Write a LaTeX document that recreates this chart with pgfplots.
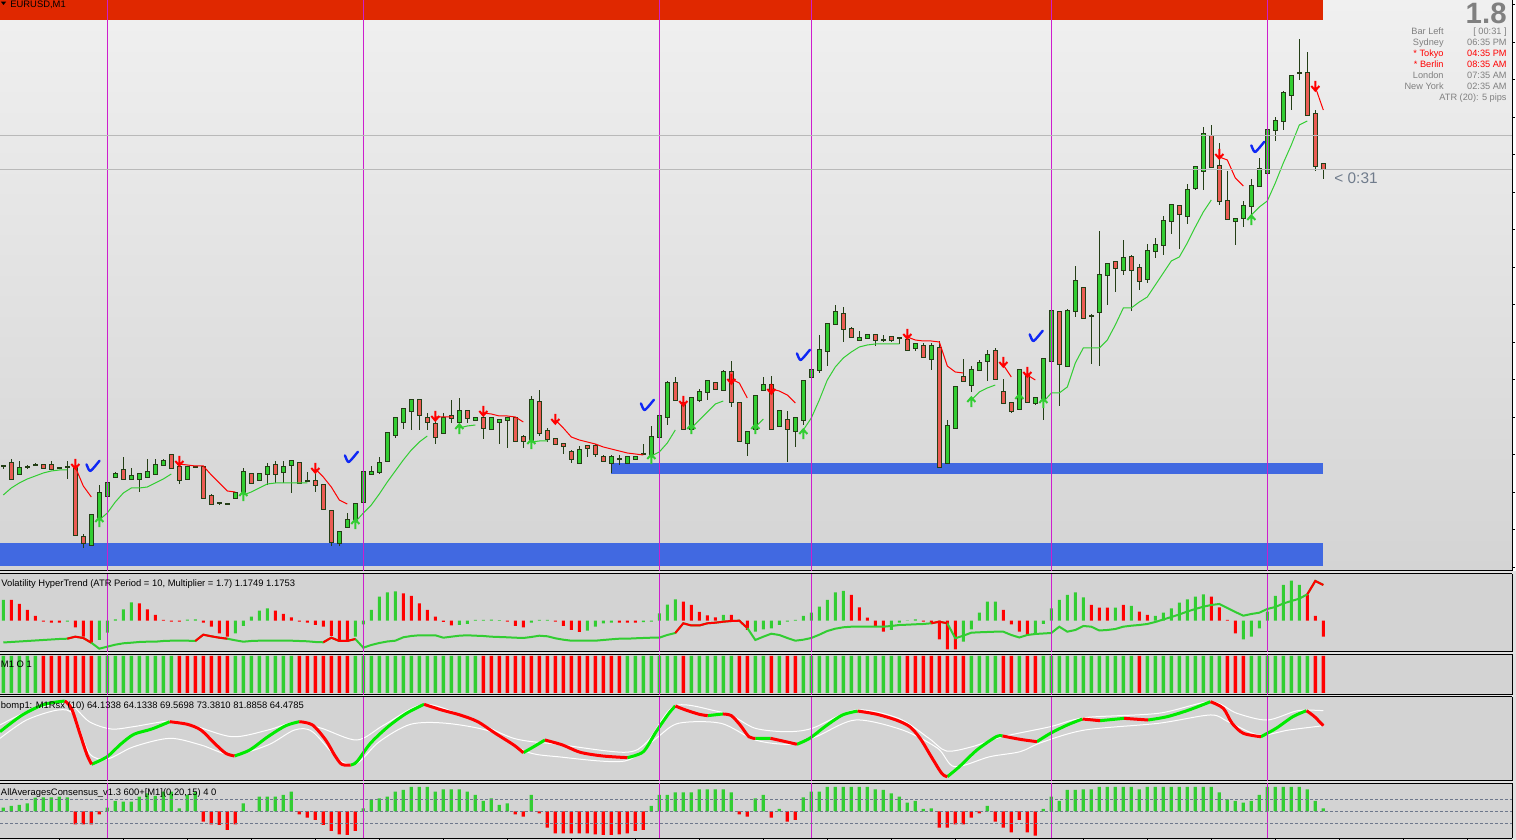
\documentclass[border=0pt]{standalone}
\usepackage{pgfplots}
\pgfplotsset{compat=1.18}
\usepackage{pgfplotstable}
\usepackage{fontspec}
\setmainfont{Liberation Sans}

\definecolor{bull}{RGB}{50,205,50}
\definecolor{bear}{RGB}{235,92,84}
\definecolor{wick}{RGB}{36,62,22}
\definecolor{brightgreen}{RGB}{0,235,0}
\definecolor{hred}{RGB}{255,0,0}
\definecolor{bandblue}{RGB}{65,105,225}
\definecolor{topred}{RGB}{224,40,0}
\definecolor{sep}{RGB}{205,30,205}
\definecolor{hline}{RGB}{185,185,185}
\definecolor{subbg}{RGB}{211,211,211}
\definecolor{picbg}{RGB}{226,226,226}
\definecolor{bgtop}{RGB}{240,240,240}
\definecolor{bgbot}{RGB}{212,212,212}
\definecolor{infogray}{RGB}{128,128,128}
\definecolor{slate}{RGB}{112,124,140}
\definecolor{checkblue}{RGB}{15,40,245}
\definecolor{dotgray}{RGB}{110,120,140}

% arrow and tick marks of the signal indicators
\pgfdeclareplotmark{dnarrow}{%
  \pgfpathmoveto{\pgfqpoint{0pt}{2.6pt}}\pgfpathlineto{\pgfqpoint{0pt}{-2pt}}%
  \pgfpathmoveto{\pgfqpoint{-2pt}{0pt}}\pgfpathlineto{\pgfqpoint{0pt}{-2.3pt}}%
  \pgfpathlineto{\pgfqpoint{2pt}{0pt}}\pgfusepathqstroke}
\pgfdeclareplotmark{uparrow}{%
  \pgfpathmoveto{\pgfqpoint{0pt}{-2.6pt}}\pgfpathlineto{\pgfqpoint{0pt}{2pt}}%
  \pgfpathmoveto{\pgfqpoint{-2pt}{0pt}}\pgfpathlineto{\pgfqpoint{0pt}{2.3pt}}%
  \pgfpathlineto{\pgfqpoint{2pt}{0pt}}\pgfusepathqstroke}
\pgfdeclareplotmark{check}{%
  \pgfpathmoveto{\pgfqpoint{-3.2pt}{0.8pt}}%
  \pgfpathcurveto{\pgfqpoint{-2.5pt}{-0.6pt}}{\pgfqpoint{-2.1pt}{-2.6pt}}{\pgfqpoint{-1.2pt}{-2.5pt}}%
  \pgfpathcurveto{\pgfqpoint{0pt}{-1.6pt}}{\pgfqpoint{1.6pt}{0.6pt}}{\pgfqpoint{3.3pt}{2.6pt}}%
  \pgfusepathqstroke}

% per bar: candle (o h l c), trend line (tg tr), volatility hist (vh, vc colour) and line (vl, vr red part),
% M1 O 1 state (m1), AllAveragesConsensus (aa)
\pgfplotstableread{
i o h l c tg tr vh vc vl vr m1 aa
0 105 106 102 105 76 nan 20.7 1 -21.8 nan 1 3.7
1 108 112 92 92 83 nan 20.7 0 -21.3 nan 1 5.3
2 97 110 96 103 88 nan 16.7 0 -20.8 nan 1 6.3
3 104 106 102 104 92 nan 10.7 0 -20.3 nan 1 8
4 106 108 106 106 95 nan 4.7 0 -19.8 nan 1 13.7
5 106 106 103 103 98 nan -1 0 -19.3 nan -1 14
6 106 110 102 102 100 nan -2 0 -18.8 nan -1 14
7 103 103 102 103 101 nan -2 0 -18.3 nan -1 14.7
8 104 110 92 104 101 nan -1 1 -18 -18 -1 14
9 104 111 35 36 nan 104 -6.7 0 -16 -16 -1 -13
10 34 37 23 28 nan 85 -16 0 -17.3 -17.3 -1 -13
11 26 56 26 56 nan 74 -22 0 -22 -22 -1 -13
12 54 86 54 78 51 nan -19.3 1 -28 nan 1 -3
13 75 91 75 88 58 nan -12 1 -26 nan 1 3.7
14 94 99 94 97 69 nan 1.3 1 -24 nan 1 10.3
15 101 114 92 92 78 nan 11.3 1 -22.6 nan 1 9.7
16 92 103 92 95 83 nan 18.3 1 -22 nan 1 9.7
17 92 97 79 97 83 nan 17.3 0 -21.3 nan 1 14.7
18 94 112 94 99 84 nan 11.3 0 -21 nan 1 18
19 97 112 97 106 88 nan 5.7 0 -21 nan 1 15.3
20 106 112 106 110 92 nan 0.7 0 -20.3 nan 1 19.7
21 116 116 103 103 97 nan -1 0 -20 nan 1 19.7
22 104 113 87 91 nan 107 -1 0 -20 nan -1 3
23 92 104 92 104 nan 106 1 1 -20 nan -1 16.3
24 104 104 104 104 nan 105 1.3 1 -20.3 -20.3 -1 19.7
25 104 104 73 73 nan 105 -2 0 -14 -14 -1 -10.3
26 75 77 67 67 nan 96 -6 0 -15.6 -15.6 -1 -13
27 68 68 66 68 nan 88 -12.7 0 -17 -17 -1 -13.7
28 66.5 66.5 66.5 66.5 nan 80 -16 0 -18 -18 -1 -18.7
29 73 78 73 78 nan 79 -12.7 1 -19.6 nan 1 -13
30 79 103 79 99 76 nan -5.3 1 -21 nan 1 8
31 97 97 88 88 79 nan 4 1 -20.3 nan 1 0
32 91 97 91 97 83 nan 10 1 -20 nan 1 14.7
33 97 108 86 104 87 nan 12.3 1 -20 nan 1 14.7
34 106 110 88 97 88 nan 10 0 -20 nan 1 14.7
35 99 110 88 104 88 nan 6.7 0 -20 nan 1 16.3
36 106 110 78 110 88 nan 3.3 0 -20 nan 1 19.7
37 108 108 88 88 88 nan -1 0 -20.3 nan -1 -3
38 90 99 90 90 88 nan -2 0 -20.6 nan -1 -6.3
39 90 104 79 86 nan 102 -4.3 0 -21.3 nan -1 -8.7
40 86 87 62 62 nan 94 -6 0 -21.6 -21.6 -1 -13.7
41 60 60 25 29 nan 84 -15.3 0 -17 -17 -1 -19.7
42 28 39 25 39 nan 71 -21 0 -20.3 -20.3 -1 -23
43 44 58 44 51 nan 67 -21 0 -20.3 -20.3 -1 -23.7
44 51 67 51 67 49 nan -16 1 -18.3 -18.3 1 -19.7
45 69 104 69 99 58 nan -3.7 1 -27 nan 1 3
46 97 105 97 99 66 nan 10.7 1 -24.3 nan 1 12
47 99 114 97 108 77 nan 24 1 -22.3 nan 1 13
48 110 138 109 138 89 nan 28.3 1 -20.8 nan 1 14.7
49 136 153 133 153 100 nan 29.3 1 -20 nan 1 19.7
50 149 163 142 162 111 nan 27.3 0 -16.6 nan 1 21.3
51 160 171 141 171 121 nan 24.7 0 -15.3 nan 1 24.3
52 171 171 141 156 129 nan 17.3 0 -14.6 nan 1 24.3
53 153 158 141 149 135 nan 10.7 0 -14.6 nan 1 24.3
54 147 153 127 134 nan 154 4 0 -14.6 nan 1 19.7
55 138 158 138 153 nan 154 -1.3 0 -17 nan 1 22
56 155 171 148 153 nan 154 -4.7 0 -16 nan 1 22
57 149 173 149 160 143 nan -4.3 1 -15 nan 1 22
58 160 160 148 153 145 nan -3.3 1 -14.6 nan 1 19.7
59 151 154 151 153 146 nan 0.7 1 -15 nan 1 16.3
60 153 161 132 143 nan 158 0.7 1 -15.3 nan -1 10.3
61 142 153 142 153 nan 157 1 1 -16 nan -1 13
62 149 152 127 151 nan 155 0.5 1 -16.3 nan -1 6.3
63 151 154 123 153 nan 155 -1 0 -16.6 nan -1 8
64 153 153 130 130 nan 154 -5.3 0 -17 nan -1 -3
65 134 136 123 130 nan 149 -6.7 0 -17.3 nan -1 -5.3
66 130 175 123 171 129 nan -2 1 -16.3 nan -1 16.3
67 169 181 135 138 130 nan 0.7 1 -15 nan -1 -2
68 140 143 129 132 130 nan 0.7 1 -15.6 nan -1 -16.3
69 132 132 127 127 nan 151 -1 0 -17.6 nan -1 -22
70 127 127 117 125 nan 143 -5.3 0 -19 nan -1 -22
71 119 121 108 112 nan 134 -9.3 0 -20 nan -1 -22
72 108 125 108 121 nan 131 -11.3 0 -20 nan -1 -22
73 125 125 114 123 nan 129 -10 1 -20 nan -1 -22
74 125 127 114 117 nan 127 -6 1 -20 nan -1 -23
75 114 116 110 110 nan 124 -2.7 1 -19.3 nan -1 -23.7
76 108 116 98 114 nan 122 -2 1 -18.6 nan -1 -23.7
77 112 116 106 112 nan 120 -2 0 -18 nan -1 -23
78 108 114 108 114 nan 118 -2 0 -18 nan 1 -22
79 112 114 112 114 nan 117 -2 0 -17.6 nan 1 -19.7
80 116.5 127 116 116.5 nan 116 -1.5 1 -17.3 nan 1 -18.7
81 117 145 116 134 115 nan -1 1 -17 nan 1 5.3
82 134 155 134 155 119 nan 7.3 1 -17 nan 1 16.3
83 154 190 146 188 128 nan 16 1 -14.3 nan 1 16.3
84 188 194 171 171 141 nan 21.3 1 -12.3 -12.3 1 19
85 168 175 142 142 nan nan 19 0 -2.6 -2.6 -1 19
86 142 173 142 173 143 nan 15.7 0 -4.8 -4.8 1 19
87 171 182 169 179 151 nan 8.7 0 -4.8 -4.8 1 22
88 179 190 171 190 159 nan 5.3 0 -2.6 -2.6 1 22
89 188 189 182 182 167 nan 3.3 0 -2 -2 1 22
90 181 201 181 199 170 nan 5.7 1 -1 -1 1 22
91 199 210 164 169 nan 192 5.7 0 -0.3 -0.3 1 19
92 168 169 130 130 nan 188 -1 0 0 0 -1 -3
93 128 140 115 139 nan 173 -9.3 0 -7.3 -7.3 -1 -5.3
94 142 175 142 175 144 nan -11 1 -19.3 nan 1 13
95 181 194 181 186 152 nan -8.7 1 -16 nan 1 16.3
96 186 195 142 142 nan 182 -7.7 1 -13 nan -1 -6.3
97 145 160 145 160 nan 180 -4.3 1 -14.3 nan 1 2.3
98 151 160 109 142 nan 176 -1 1 -17.3 nan -1 -10.3
99 140 153 124 153 nan 168 0.7 1 -20 nan -1 -8.7
100 151 190 146 190 141 nan 4.7 1 -19 nan 1 14
101 194 201 194 201 153 nan 8 1 -17.3 nan 1 19.7
102 201 236 198 221 171 nan 14 1 -14 nan 1 19.7
103 220 248 205 247 191 nan 20.7 1 -10.3 nan 1 24.3
104 247 266 247 259 204 nan 28.3 1 -8 nan 1 24.3
105 257 264 229 242 213 nan 29.7 1 -6.6 nan 1 24.3
106 242 244 234 234 219 nan 25.7 0 -6 nan 1 24.3
107 231 240 231 233 224 nan 13.3 0 -6 nan 1 24.3
108 233 236 233 236 226 nan 3 0 -6 nan 1 24.3
109 236 236 225 231 227 nan -5.3 0 -6 nan 1 22
110 231 236 229 231 227 nan -11 0 -6 nan 1 21.3
111 234 234 229 231 227 nan -9.3 1 -5.3 nan 1 18
112 233 233 227 233 227 nan -2 1 -4.3 nan 1 14.7
113 231 238 221 221 nan 234 0.3 1 -4 nan -1 8.7
114 223 227 220 227 nan 231 1.3 1 -3.6 nan -1 10.3
115 225 228 214 214 nan 230 -1 0 -3.3 nan -1 2.3
116 212 228 201 225 nan 230 -3.3 0 -2.6 -2.6 -1 3
117 223 230 103 104 nan 229 -18.7 0 -1 -1 -1 -16.3
118 108 151 108 145 nan 205 -28.7 0 -2.6 -2.6 -1 -16.3
119 143 184 143 184 nan 199 -28.7 0 -17.6 nan -1 -13
120 194 212 190 190 nan 198 -21 1 -15 nan -1 -13
121 186 205 179 201 171 nan -8.7 1 -12 nan 1 -6.3
122 201 211 201 208 179 nan 8 1 -11.6 nan 1 -2
123 210 221 190 216 183 nan 19 1 -11.3 nan 1 5.3
124 220 223 192 192 186 nan 19 1 -11 nan 1 -10.3
125 179 192 168 168 nan 206 10.7 0 -11 nan -1 -16.3
126 168 168 158 160 nan 194 -3.7 0 -14.3 nan -1 -21
127 162 201 162 201 nan nan -11 0 -16.8 nan 1 -8.7
128 196 203 169 169 nan 196 -14.3 0 -14.3 nan -1 -21
129 168 173 166 173 nan 191 -12.7 1 -13.3 nan -1 -24.3
130 171 212 151 212 169 nan -3.3 1 -12.8 nan 1 2.3
131 210 260 210 260 178 nan 12.3 1 -12.3 nan 1 14.7
132 259 259 165 207 178 nan 20.7 1 -6 nan 1 10.3
133 205 262 205 260 184 nan 25.7 1 -11 nan 1 21.3
134 260 305 254 290 208 nan 28.3 1 -9.3 nan 1 21.3
135 283 283 253 253 223 nan 23.3 1 -5.3 nan 1 22
136 255 257 207 255 223 nan 15.7 0 -6 nan 1 22
137 259 340 205 296 223 nan 13 0 -9.8 nan 1 24.3
138 296 307 266 307 231 nan 13 0 -9.3 nan 1 24.3
139 309 309 279 303 246 nan 13 1 -8.3 nan 1 24.3
140 301 331 296 313 263 nan 15.7 0 -6 nan 1 24.3
141 314 316 260 301 263 nan 14.7 1 -5 nan 1 24.3
142 303 307 281 290 269 nan 9 0 -4.3 nan -1 22
143 292 327 288 320 274 nan 5.7 0 -3.3 nan 1 24.3
144 320 333 313 326 286 nan 4.7 1 -1.3 nan 1 24.3
145 326 355 316 350 298 nan 8 1 1.2 nan 1 24.3
146 350 366 337 366 310 nan 12.3 1 3.7 nan 1 24.3
147 365 365 322 357 314 nan 18 1 6.2 nan 1 24.3
148 355 387 347 381 328 nan 21.3 1 9.2 nan 1 24.3
149 383 404 381 404 344 nan 24 1 11.7 nan 1 24.3
150 400 444 381 437 359 nan 26.3 1 14 nan 1 24.3
151 435 446 403 404 371 nan 24 0 15.7 nan 1 24.3
152 405 428 366 370 nan 414 13.3 0 16.7 nan 1 19
153 370 400 352 352 nan 411 0.7 0 12.7 nan -1 12
154 350 352 326 352 nan 393 -12.7 0 8.7 nan -1 10.3
155 353 370 344 365 nan 385 -18.7 1 5 nan -1 8.7
156 365 392 353 385 356 nan -16 1 6.7 nan 1 10.3
157 385 413 385 402 364 nan -7.7 1 8 nan 1 16.3
158 398 441 398 441 370 nan 9 1 11.7 nan 1 24.3
159 441 454 430 450 388 nan 24.7 1 13.7 nan 1 24.3
160 450 480 441 478 408 nan 35.7 1 17.2 nan 1 24.3
161 476 495 461 495 426 nan 40 1 19.7 nan 1 24.3
162 498 532 491 498 446 nan 35.7 1 22 nan 1 24.3
163 498 519 456 456 450 nan 25.7 0 26.4 26.4 1 22
164 457 461 400 405 nan 484 4.7 0 39.7 39.7 -1 10.3
165 407 407 392 402 nan 461 -16 0 35.7 35.7 -1 3
}\bars

% bomp1 M1Rsx line, green and red stretches
\pgfplotstableread{
x y
-0.41 58.7
2.38 78.6
5.17 91.3
7.68 95.2
nan nan
11.03 19.9
12.98 28.9
14.66 43.7
16.33 55.6
18.56 61.9
20.8 70.6
nan nan
28.9 29.8
30.8 36.9
33.07 52.7
35.3 65.8
37 70.6
nan nan
43.4 19
44.2 23
45.9 44.9
48.1 64.7
50.4 80.6
52.6 91.3
nan nan
65 33.7
66.3 40.8
67.7 48.8
nan nan
78 27.8
80 34.9
81.6 58.7
83.2 80.6
84 89.3
nan nan
88.05 77.8
89.95 79.8
nan nan
94 50.8
95.9 50.8
nan nan
99.2 43.7
100.8 50.8
102.7 64.7
104.9 78.6
106.8 83.3
nan nan
118 5.1
119.5 17
121.7 36.9
124.1 52.7
124.9 53.6
nan nan
129.2 46.8
130.9 56.8
133 66.7
134.9 73.8
nan nan
137.1 71.8
140.1 74.6
nan nan
143.1 72.6
145.5 76.6
148.2 84.5
150.9 94.4
nan nan
157.2 52.7
159.1 62.7
161.2 76.6
162.9 83.7
}\bompgreen

\pgfplotstableread{
x y
7.68 95.2
8.52 86.5
9.63 54.8
10.47 31
11.03 19.9
nan nan
20.8 70.6
23 67.5
24.7 60.7
26.4 44.9
27.8 33
28.9 29.8
nan nan
37 70.6
38.65 66.7
40.3 48.8
41.4 31
42.3 19.9
43.4 19
nan nan
52.6 91.3
54.8 84.5
57.1 78.6
59.3 70.6
61.5 56.8
63.8 42.9
65 33.7
nan nan
67.7 48.8
69.9 42.9
72.1 34.2
74.9 29.8
78 27.8
nan nan
84 89.3
85.3 84.5
87 79.4
88.05 77.8
nan nan
89.95 79.8
91 77.8
92.1 66.7
93.2 52.7
94 50.8
nan nan
95.9 50.8
97.8 46.8
99.2 43.7
nan nan
106.8 83.3
109.2 79.4
111.6 72.6
113.3 64.7
114.6 50.8
116 28.9
117.3 9.1
118 5.1
nan nan
124.9 53.6
127.1 49.6
129.2 46.8
nan nan
134.9 73.8
137.1 71.8
nan nan
140.1 74.6
143.1 72.6
nan nan
150.9 94.4
152.5 86.5
153.6 68.7
155 56.8
157.2 52.7
nan nan
162.9 83.7
163.9 76.6
165 65.8
}\bompred

\pgfplotstableread{
x y
-0.41 66.7
2.94 82.5
6.3 91.3
8.5 90.5
10.75 70.6
13.5 61.9
16.3 64.7
20.8 71.4
23.6 66.7
28.6 52.7
33.1 60.7
36.4 69.8
39.8 62.7
44.2 48.8
47.6 66.7
52.6 91.3
58.2 74.6
63.8 50.8
69.3 43.7
77.7 34.2
80.5 46.8
83.9 89.3
89.1 83.3
91.3 76.6
94 62.7
97.8 58.7
101.1 62.7
106.5 84.5
111.9 74.6
115.7 50.8
117.9 35.7
121.1 40.8
124.9 52.7
130.9 64.7
135.2 75.4
144.4 80.6
150.9 94.4
154.2 80.6
158 72.6
161.8 83.7
165 83.7
}\bompup

\pgfplotstableread{
x y
-0.41 50.8
2.9 72.6
6.85 84.5
8.8 78.6
10.75 33
13 26.2
16.3 40.8
20.8 50.8
24.7 42.9
28.6 31
33.1 42.9
36.4 60.7
38.65 58.7
42 25
44.2 21
47 46.8
50.9 67.5
55.4 68.7
61 58.7
65.4 34.9
69.3 28.9
77.7 23.8
81.6 50.8
84.4 68.7
89.7 68.7
94 48.8
98.4 43.7
101.6 52.7
106.5 72.6
112.4 60.7
116.8 38.9
118.9 17
123.3 28.9
127.1 34.9
129.8 46
135.2 60.7
144.4 68.7
150.9 78.6
153.1 70.6
156.9 54.8
160.7 60.7
165 65.8
}\bomplow

\pgfplotsset{
  panel/.style={scale only axis, width=756pt, anchor=south west,
    xmin=-0.4125, xmax=188.5875, enlargelimits=false, axis on top,
    xtick=\empty, ytick=\empty,
    axis line style={-, black, line width=0.5pt},
    extra x ticks={13,45,82,101,131,158}, extra x tick labels={},
    extra x tick style={grid=major, major grid style={sep, line width=0.5pt}, major tick length=0pt}},
  sub/.style={panel, axis x line*=box, axis y line*=right, axis background/.style={fill=subbg}},
  candle/.style={draw=none, mark=none, error bars/.cd, y dir=both, y explicit, error mark=none,
    error bar style={draw=#1}},
}
\newcommand\smalltxt{\fontsize{4.7pt}{5.5pt}\selectfont}
\newcommand\infotxt{\fontsize{4.6pt}{5.5pt}\selectfont}

\begin{document}
\begin{tikzpicture}
\useasboundingbox (0,0) rectangle (758pt,420pt);
\fill[picbg] (0,0) rectangle (758pt,420pt);
\fill[white] (756pt,134.5pt) rectangle (758pt,420pt);

% main price chart
\begin{axis}[panel, at={(0pt,134.5pt)}, height=285.5pt, ymin=0, ymax=571,
  axis x line*=bottom, axis y line*=right,
  axis background/.style={top color=bgtop, bottom color=bgbot},
  ytick={3.5,41,78.5,116,153.5,191,228.5,266,303.5,341,378.5,416,453.5,491,528.5,566},
  yticklabels={}, tick align=outside, major tick length=1.5pt, tick style={black, line width=0.5pt},
  extra y ticks={401,435}, extra y tick labels={},
  extra y tick style={grid=major, major grid style={hline, line width=0.5pt}, major tick length=0pt}]
\addplot[draw=none, fill=topred] coordinates {(-0.4125,551) (164.96,551) (164.96,571) (-0.4125,571)} --cycle;
\addplot[draw=none, fill=bandblue] coordinates {(-0.4125,5) (164.96,5) (164.96,28) (-0.4125,28)} --cycle;
\addplot[draw=none, fill=bandblue] coordinates {(75.96,97) (164.96,97) (164.96,108) (75.96,108)} --cycle;
% candles: wicks, dark outline, bodies
\addplot[candle=wick, error bar style={line width=0.5pt}] table[x=i, y expr={0.5*(\thisrow{h}+\thisrow{l})}, y error expr={0.5*(\thisrow{h}-\thisrow{l})}] {\bars};
\addplot[candle=wick, error bar style={line width=2.5pt}] table[x=i, y expr={0.5*(\thisrow{o}+\thisrow{c})}, y error expr={0.5*abs(\thisrow{o}-\thisrow{c})+1}] {\bars};
\addplot[restrict expr to domain={\thisrow{c}-\thisrow{o}}{0.1:1000}, candle=bull, error bar style={line width=1.5pt}] table[x=i, y expr={0.5*(\thisrow{o}+\thisrow{c})}, y error expr={0.5*abs(\thisrow{o}-\thisrow{c})}] {\bars};
\addplot[restrict expr to domain={\thisrow{o}-\thisrow{c}}{0.1:1000}, candle=bear, error bar style={line width=1.5pt}] table[x=i, y expr={0.5*(\thisrow{o}+\thisrow{c})}, y error expr={0.5*abs(\thisrow{o}-\thisrow{c})}] {\bars};
% HyperTrend line
\addplot[bull, line width=0.5pt, unbounded coords=jump, mark=none] table[x=i, y=tg] {\bars};
\addplot[hred, line width=0.5pt, unbounded coords=jump, mark=none] table[x=i, y=tr] {\bars};
\addplot[only marks, mark=dnarrow, mark options={hred, line width=1pt}] coordinates {(9,107) (22,110) (39,103) (54,155) (60,160) (69,152) (85,170) (91,192) (96,182) (113,237) (125,209) (128,199) (152,417) (164,485)};
\addplot[only marks, mark=uparrow, mark options={bull, line width=1pt}] coordinates {(12,49) (30,75) (44,47) (57,142) (66,127) (81,112) (86,142) (94,142) (100,137) (121,169) (127,172) (130,168) (156,351)};
\addplot[only marks, mark=check, mark options={checkblue, line width=1.2pt, line cap=round, line join=round}] coordinates {(11.2,105) (43.5,114) (80.5,166) (100,216) (129.1,235) (156.8,424)};
\end{axis}

% Volatility HyperTrend
\begin{axis}[sub, at={(0pt,94pt)}, height=39pt, ymin=-31.3, ymax=46.7]
\addplot[ybar, bar width=1.5pt, bar shift=0pt, draw=none, fill=bull, restrict expr to domain={\thisrow{vc}}{0.5:1.5}] table[x=i, y=vh] {\bars};
\addplot[ybar, bar width=1.5pt, bar shift=0pt, draw=none, fill=hred, restrict expr to domain={\thisrow{vc}}{-0.5:0.5}] table[x=i, y=vh] {\bars};
\addplot[bull, line width=1pt, mark=none] table[x=i, y=vl] {\bars};
\addplot[hred, line width=1pt, mark=none, unbounded coords=jump] table[x=i, y=vr] {\bars};
\end{axis}

% M1 O 1
\begin{axis}[sub, at={(0pt,72.5pt)}, height=20.25pt, ymin=-0.054, ymax=1.0405]
\addplot[ybar, bar width=1.7pt, bar shift=0pt, draw=none, fill=bull, restrict expr to domain={\thisrow{m1}}{0:2}] table[x=i, y expr=1] {\bars};
\addplot[ybar, bar width=1.7pt, bar shift=0pt, draw=none, fill=hred, restrict expr to domain={\thisrow{m1}}{-2:0}] table[x=i, y expr=1] {\bars};
\end{axis}

% bomp1 M1Rsx
\begin{axis}[sub, at={(0pt,29.5pt)}, height=42pt, ymin=0, ymax=100]
\addplot[white, line width=0.5pt, smooth, mark=none] table {\bompup};
\addplot[white, line width=0.5pt, smooth, mark=none] table {\bomplow};
\addplot[brightgreen, line width=1.5pt, smooth, mark=none, unbounded coords=jump] table {\bompgreen};
\addplot[hred, line width=1.5pt, smooth, mark=none, unbounded coords=jump] table {\bompred};
\end{axis}

% AllAveragesConsensus
\begin{axis}[sub, at={(0pt,0.75pt)}, height=27.5pt, ymin=-27.2, ymax=27.8,
  xtick={7,15,...,183}, xticklabels={}, xtick pos=bottom, tick align=outside,
  major tick length=0.8pt, tick style={black, line width=0.5pt},
  extra y ticks={-12,0,12}, extra y tick labels={},
  extra y tick style={grid=major, major grid style={dotgray, dash pattern=on 1.5pt off 1pt, line width=0.5pt}, major tick length=0pt}]
\addplot[ybar, bar width=1.6pt, bar shift=0pt, draw=none, fill=bull, restrict y to domain=0:100] table[x=i, y=aa] {\bars};
\addplot[ybar, bar width=1.6pt, bar shift=0pt, draw=none, fill=hred, restrict y to domain=-100:0] table[x=i, y=aa] {\bars};
\end{axis}

% labels
\fill[black] (0.4pt,419.2pt) -- (3.1pt,419.2pt) -- (1.75pt,417.5pt) -- cycle;
\node[anchor=west, inner sep=0pt, font=\smalltxt] at (5pt,417.6pt) {EURUSD,M1};
\node[anchor=west, inner sep=0pt, font=\smalltxt] at (0.5pt,128pt) {Volatility HyperTrend (ATR Period = 10, Multiplier = 1.7) 1.1749 1.1753};
\node[anchor=west, inner sep=0pt, font=\smalltxt] at (0.3pt,88pt) {M1 O 1};
\node[anchor=west, inner sep=0pt, font=\smalltxt] at (0.3pt,67pt) {bomp1: M1Rsx (10) 64.1338 64.1338 69.5698 73.3810 81.8858 64.4785};
\node[anchor=west, inner sep=0pt, font=\smalltxt] at (0.3pt,23.65pt) {AllAveragesConsensus\_v1.3 600+[M1](0,20,15) 4 0};
\node[anchor=east, inner sep=0pt, text=infogray, font=\fontsize{14.7pt}{15pt}\selectfont\bfseries] at (753.5pt,413.3pt) {1.8};
\begin{scope}[every node/.style={inner sep=0pt, font=\infotxt, text=infogray}]
\node[anchor=east] at (722pt,404.15pt) {Bar Left};
\node[anchor=east] at (753.5pt,404.15pt) {[ 00:31 ]};
\node[anchor=east] at (722pt,398.65pt) {Sydney};
\node[anchor=east] at (753.5pt,398.65pt) {06:35 PM};
\node[anchor=east, text=hred] at (722pt,393.15pt) {* Tokyo};
\node[anchor=east, text=hred] at (753.5pt,393.15pt) {04:35 PM};
\node[anchor=east, text=hred] at (722pt,387.65pt) {* Berlin};
\node[anchor=east, text=hred] at (753.5pt,387.65pt) {08:35 AM};
\node[anchor=east] at (722pt,382.15pt) {London};
\node[anchor=east] at (753.5pt,382.15pt) {07:35 AM};
\node[anchor=east] at (722pt,376.65pt) {New York};
\node[anchor=east] at (753.5pt,376.65pt) {02:35 AM};
\node[anchor=east] at (753.5pt,371.15pt) {ATR (20): 5 pips};
\end{scope}
\node[anchor=west, inner sep=0pt, text=slate, font=\fontsize{7.7pt}{8pt}\selectfont] at (667pt,331pt) {< 0:31};
\end{tikzpicture}
\end{document}
